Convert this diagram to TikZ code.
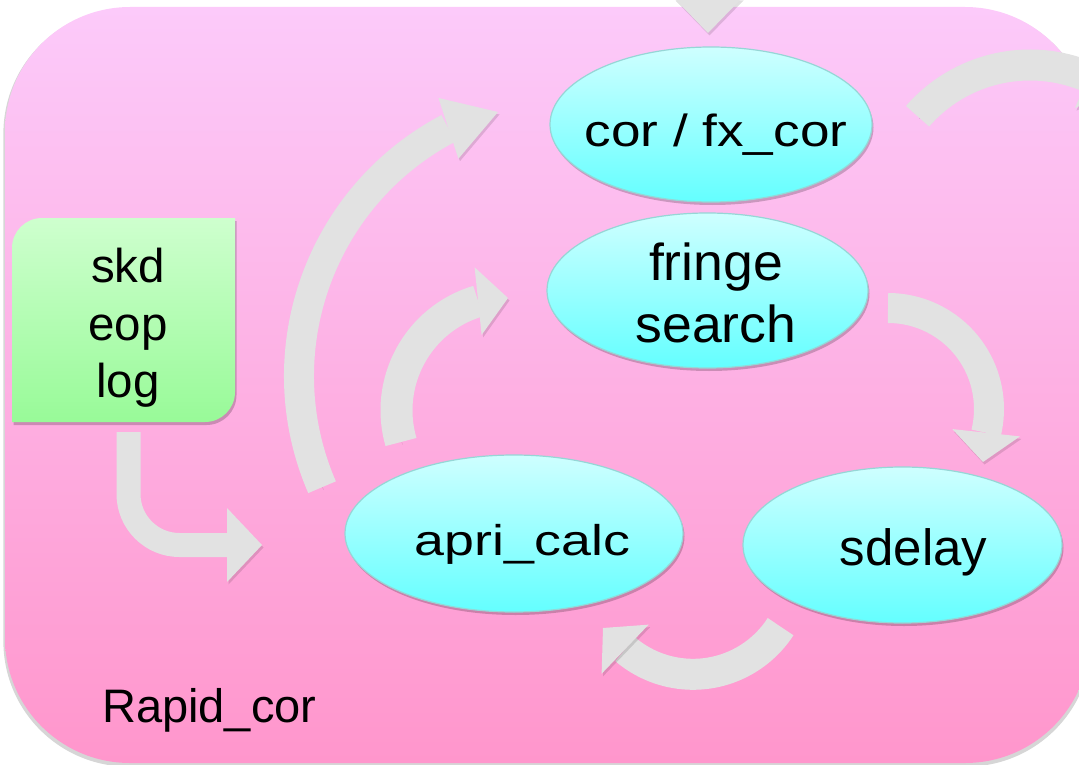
\documentclass[tikz,border=0pt]{standalone}
\usepackage{fontspec}
\usepackage{graphicx}
\setmainfont{Liberation Sans}
\usetikzlibrary{calc,shapes.geometric,shadows}

\definecolor{pinktop}{RGB}{252,202,250}
\definecolor{pinkbot}{RGB}{255,150,204}
\definecolor{cyantop}{RGB}{206,255,255}
\definecolor{cyanbot}{RGB}{100,255,255}
\definecolor{cyanedge}{RGB}{150,214,214}
\definecolor{greentop}{RGB}{206,255,206}
\definecolor{greenbot}{RGB}{152,250,152}
\definecolor{flowgray}{RGB}{226,226,226}

\tikzset{
  stage/.style={ellipse, draw=cyanedge, line width=1.2pt,
    top color=cyantop, bottom color=cyanbot, inner sep=0pt,
    drop shadow={shadow xshift=1.5pt, shadow yshift=-3pt, opacity=.2, fill=black}},
  lbl/.style={anchor=base, inner sep=0pt, text=black},
  flowshaft/.style={draw=flowgray, line width=#1,
    preaction={draw=black, opacity=.12, transform canvas={shift={(1.5pt,-2.5pt)}}}},
  flowhead/.style={fill=flowgray,
    preaction={fill=black, opacity=.12, transform canvas={shift={(1.5pt,-2.5pt)}}}},
}

\begin{document}
\begin{tikzpicture}[x=1pt, y=-1pt]
\useasboundingbox (0,0) rectangle (1079,765);

% pink frame of the Rapid_cor stage
\node[rectangle, rounded corners=125pt, minimum width=1085pt, minimum height=756pt,
  inner sep=0pt, top color=pinktop, bottom color=pinkbot,
  drop shadow={shadow xshift=0pt, shadow yshift=-2.5pt, shadow scale=1.003, opacity=.16, fill=black}]
  (frame) at (547.5,385) {};

% input files box
\path[top color=greentop, bottom color=greenbot,
  drop shadow={shadow xshift=1.5pt, shadow yshift=-3pt, opacity=.2, fill=black}]
  (12,422) -- (12,248) arc[start angle=180, end angle=270, radius=30]
  -- (235,218) -- (235,392) arc[start angle=0, end angle=90, radius=30] -- cycle;
\node[lbl, font=\fontsize{47.5}{57}\selectfont] (skd) at (128,282) {skd};
\node[lbl, font=\fontsize{47.5}{57}\selectfont] (eop) at (128,340) {eop};
\node[lbl, font=\fontsize{47.5}{57}\selectfont] (log) at (128,397) {log};

% processing steps
\node[stage, minimum width=322pt, minimum height=155pt] (cor) at (711,124.5) {};
\node[lbl, font=\fontsize{45}{54}\selectfont] (corlbl) at (716,146.5) {\scalebox{1.18}[1]{cor / fx\_cor}};

\node[stage, minimum width=321pt, minimum height=155pt] (fringe) at (707.5,290.5) {};
\node[lbl, font=\fontsize{52}{62}\selectfont] (fringelblA) at (716,280) {\scalebox{1.03}[1]{fringe}};
\node[lbl, font=\fontsize{52}{62}\selectfont] (fringelblB) at (716,342) {\scalebox{1.03}[1]{search}};

\node[stage, minimum width=338pt, minimum height=157pt] (apri) at (514,533.5) {};
\node[lbl, font=\fontsize{43}{52}\selectfont] (aprilbl) at (522.5,555) {\scalebox{1.25}[1]{apri\_calc}};

\node[stage, minimum width=319pt, minimum height=156pt] (sdelay) at (902.5,545) {};
\node[lbl, font=\fontsize{51}{61}\selectfont] (sdelaylbl) at (913.5,565) {sdelay};

\node[lbl, anchor=base west, font=\fontsize{47}{56}\selectfont] (title) at (102,722) {Rapid\_cor};

% arrow coming in from above
\coordinate (topA) at (708,-80);
\coordinate (topB) at (708,-2);
\coordinate (topT) at (708,33);
\draw[flowshaft=30pt] (topA) -- (topB);
\fill[flowhead] (topT) -- ($(topB)!34pt!90:(topT)$) -- ($(topB)!34pt!-90:(topT)$) -- cycle;

% inputs -> apri_calc
\coordinate (inA) at (128.5,432);
\coordinate (inB) at (227,545);
\coordinate (inT) at (262,545);
\draw[flowshaft=24pt, rounded corners=51pt] (inA) |- (inB);
\fill[flowhead] (inT) -- ($(inB)!37pt!90:(inT)$) -- ($(inB)!37pt!-90:(inT)$) -- cycle;

% apri_calc -> cor / fx_cor
\coordinate (c1) at (579,376);
\coordinate (t1) at (498,112);
\draw[flowshaft=30pt] ($(c1)+(156.6:280)$) coordinate (s1)
  arc[start angle=156.6, end angle=242.2, radius=280] coordinate (b1);
\fill[flowhead] (t1) -- ($(b1)!32pt!90:(t1)$) -- ($(b1)!32pt!-90:(t1)$) -- cycle;

% apri_calc -> fringe search
\coordinate (c2) at (510.5,410.4);
\coordinate (t2) at (508,298);
\draw[flowshaft=32pt] ($(c2)+(163.9:114)$) coordinate (s2)
  arc[start angle=163.9, end angle=253.5, radius=114] coordinate (b2);
\fill[flowhead] (t2) -- ($(b2)!34pt!90:(t2)$) -- ($(b2)!34pt!-90:(t2)$) -- cycle;

% fringe search -> sdelay
\coordinate (c3) at (888,409);
\coordinate (t3) at (983,462);
\draw[flowshaft=30pt] ($(c3)+(270:101)$) coordinate (s3)
  arc[start angle=270, end angle=373.6, radius=101] coordinate (b3);
\fill[flowhead] (t3) -- ($(b3)!34pt!90:(t3)$) -- ($(b3)!34pt!-90:(t3)$) -- cycle;

% sdelay -> apri_calc
\coordinate (c4) at (693,570);
\coordinate (t4) at (603,628);
\draw[flowshaft=31pt] ($(c4)+(32.9:104.3)$) coordinate (s4)
  arc[start angle=32.9, end angle=130.6, radius=104.3] coordinate (b4);
\fill[flowhead] (t4) -- ($(b4)!34pt!90:(t4)$) -- ($(b4)!34pt!-90:(t4)$) -- cycle;

% cor / fx_cor -> next stage (leaves the frame)
\coordinate (c5) at (1030,214);
\draw[flowshaft=31pt] ($(c5)+(221:149)$) coordinate (s5)
  arc[start angle=221, end angle=293, radius=149] coordinate (b5);
\coordinate (t5) at ($(b5)+(0.921*30,0.391*30)$);
\fill[flowhead] (t5) -- ($(b5)!34pt!90:(t5)$) -- ($(b5)!34pt!-90:(t5)$) -- cycle;
\end{tikzpicture}
\end{document}
